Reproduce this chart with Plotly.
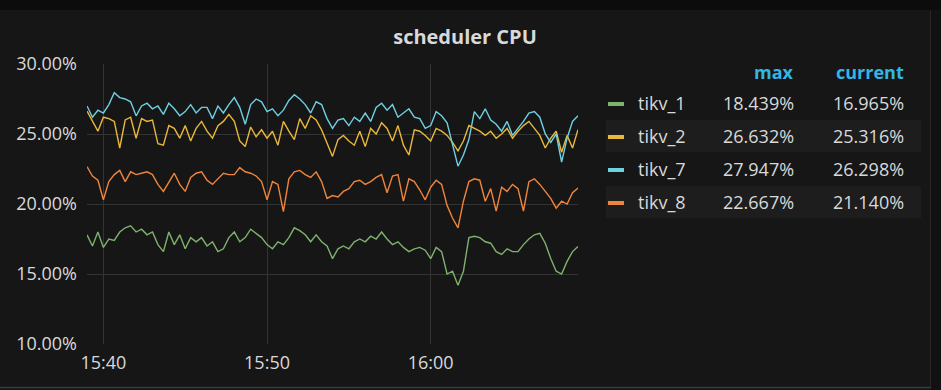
import pandas as pd
import plotly.graph_objects as go

# ---------------- data ----------------
times = pd.date_range("2018-01-01 15:39:00", "2018-01-01 16:09:00", freq="20s")

tikv_1 = [17.8, 17.0, 18.0, 16.9, 17.5, 17.4, 18.0, 18.3, 18.439, 18.0,
          18.2, 17.8, 18.0, 17.1, 16.6, 18.0, 17.1, 17.8, 16.8, 17.6,
          17.3, 17.6, 17.0, 17.3, 16.6, 16.8, 17.6, 18.0, 17.3, 17.6,
          18.2, 17.9, 17.6, 17.1, 16.8, 17.3, 17.1, 17.6, 18.3, 18.1,
          17.8, 17.3, 17.8, 17.3, 17.0, 16.1, 16.8, 17.0, 16.8, 17.3,
          17.5, 17.3, 17.7, 17.5, 18.0, 17.5, 17.1, 17.3, 16.9, 16.6,
          16.8, 16.9, 16.7, 16.1, 16.9, 16.6, 15.0, 15.2, 14.2, 15.2,
          17.6, 17.7, 17.6, 17.3, 17.2, 16.6, 16.4, 16.8, 16.6, 16.6,
          17.1, 17.5, 17.8, 17.9, 17.2, 16.1, 15.2, 15.0, 15.9, 16.6,
          16.965]

tikv_2 = [26.632, 25.9, 25.2, 26.2, 26.1, 25.9, 24.0, 26.0, 26.2, 24.7,
          26.1, 25.9, 26.0, 24.3, 24.2, 25.6, 25.4, 24.7, 25.6, 24.5,
          25.4, 25.9, 25.2, 24.7, 25.6, 25.9, 26.4, 25.9, 24.5, 24.1,
          25.5, 24.8, 25.3, 24.7, 25.2, 24.2, 25.9, 25.2, 24.6, 26.1,
          25.4, 26.3, 26.0, 25.3, 24.3, 23.4, 24.6, 24.9, 24.5, 24.2,
          25.2, 24.1, 25.4, 25.0, 25.8, 25.4, 24.5, 25.6, 24.2, 23.5,
          25.3, 25.2, 24.9, 24.5, 25.4, 25.2, 24.9, 24.4, 23.8, 24.5,
          25.6, 25.4, 25.2, 24.9, 25.2, 24.7, 25.0, 25.4, 24.7, 25.2,
          25.6, 25.9, 25.4, 24.9, 24.0, 24.7, 25.2, 23.7, 24.9, 24.0,
          25.316]

tikv_7 = [27.0, 26.2, 26.7, 26.5, 27.1, 27.947, 27.6, 27.5, 27.3, 26.3,
          27.0, 27.2, 26.8, 27.0, 26.4, 27.2, 26.8, 26.3, 26.6, 27.1,
          26.5, 26.9, 26.9, 26.1, 27.0, 26.5, 27.1, 27.6, 26.9, 25.7,
          27.1, 27.5, 27.3, 26.6, 26.8, 26.3, 26.7, 27.4, 27.8, 27.5,
          27.1, 26.5, 27.3, 27.1, 26.1, 25.4, 26.0, 26.1, 25.6, 26.2,
          25.9, 26.5, 25.9, 26.9, 27.2, 26.7, 27.1, 26.2, 26.5, 26.8,
          26.2, 26.1, 25.4, 25.6, 26.6, 26.3, 25.8, 24.3, 22.7, 23.5,
          24.6, 26.6, 26.1, 26.8, 26.0, 25.7, 25.2, 25.9, 24.9, 25.4,
          25.9, 26.5, 26.6, 26.2, 25.0, 24.4, 25.0, 23.0, 24.7, 25.9,
          26.298]

tikv_8 = [22.667, 22.0, 21.7, 20.3, 21.6, 22.1, 22.4, 21.6, 22.3, 22.1,
          22.2, 22.3, 22.1, 21.4, 20.9, 21.6, 22.2, 21.4, 20.9, 21.9,
          22.2, 22.3, 21.7, 21.4, 21.8, 22.2, 22.1, 22.1, 22.6, 22.3,
          22.2, 22.0, 21.6, 20.3, 21.6, 21.4, 19.45, 21.8, 22.3, 22.4,
          22.1, 21.9, 22.3, 21.6, 20.4, 20.6, 20.5, 20.9, 21.1, 21.6,
          21.7, 21.4, 21.6, 21.9, 22.1, 20.8, 22.0, 22.1, 20.2, 21.8,
          21.6, 21.0, 20.3, 21.2, 21.7, 21.4, 19.9, 19.0, 18.3, 20.2,
          21.6, 21.8, 21.7, 20.2, 21.1, 19.5, 21.2, 20.9, 21.4, 21.1,
          19.5, 21.6, 21.8, 21.4, 20.9, 20.4, 19.7, 20.2, 20.0, 20.8,
          21.14]

series_names = ["tikv_1", "tikv_2", "tikv_7", "tikv_8"]
series_values = [tikv_1, tikv_2, tikv_7, tikv_8]
series_colors = ["#7eb26d", "#eab839", "#6ed0e0", "#ef843c"]
max_labels = ["18.439%", "26.632%", "27.947%", "22.667%"]
current_labels = ["16.965%", "25.316%", "26.298%", "21.140%"]
y_ticks = [10, 15, 20, 25, 30]
y_tick_labels = ["10.00%", "15.00%", "20.00%", "25.00%", "30.00%"]

# ---------------- layout geometry (pixels) ----------------
W, H = 941, 390
L, R, T, B = 87, 578, 64, 344


def px(x):
    return (x - L) / (R - L)


def py(y):
    return (B - y) / (B - T)


fig = go.Figure()
for name, vals, col in zip(series_names, series_values, series_colors):
    fig.add_trace(go.Scatter(x=times, y=vals, mode="lines", name=name,
                             line=dict(color=col, width=1.4), showlegend=False))

txt = "#d8d9da"
font_family = "Open Sans, Noto Sans, sans-serif"
fs = 18

shapes = [
    # top strip
    dict(type="rect", xref="paper", yref="paper", x0=px(0), x1=px(W), y0=py(10), y1=py(0),
         fillcolor="#0c0c0d", line=dict(width=0), layer="below"),
    # right strip
    dict(type="rect", xref="paper", yref="paper", x0=px(931), x1=px(W), y0=py(H), y1=py(10),
         fillcolor="#111112", line=dict(width=0), layer="below"),
    dict(type="line", xref="paper", yref="paper", x0=px(930.5), x1=px(930.5), y0=py(387), y1=py(10),
         line=dict(color="#262627", width=1), layer="below"),
    # bottom edge
    dict(type="line", xref="paper", yref="paper", x0=px(0), x1=px(931), y0=py(387.5), y1=py(387.5),
         line=dict(color="#3a3a3b", width=1.5), layer="below"),
]

# legend row backgrounds and swatches
row_y = [103, 136, 169, 202]
for k, yy in enumerate(row_y):
    if k % 2 == 1:
        shapes.append(dict(type="rect", xref="paper", yref="paper",
                           x0=px(606), x1=px(921), y0=py(yy + 16), y1=py(yy - 16),
                           fillcolor="#1d1d1e", line=dict(width=0), layer="below"))
    shapes.append(dict(type="line", xref="paper", yref="paper",
                       x0=px(608), x1=px(624), y0=py(yy + 1), y1=py(yy + 1),
                       line=dict(color=series_colors[k], width=4)))

annotations = [
    dict(text="<b>max</b>", xref="paper", yref="paper", x=px(796), y=py(72),
         xanchor="right", yanchor="middle", showarrow=False,
         font=dict(color="#33b5e5", size=fs, family=font_family)),
    dict(text="<b>current</b>", xref="paper", yref="paper", x=px(906), y=py(72),
         xanchor="right", yanchor="middle", showarrow=False,
         font=dict(color="#33b5e5", size=fs, family=font_family)),
]
for k, yy in enumerate(row_y):
    annotations.append(dict(text=series_names[k], xref="paper", yref="paper", x=px(636), y=py(yy),
                            xanchor="left", yanchor="middle", showarrow=False,
                            font=dict(color=txt, size=fs, family=font_family)))
    annotations.append(dict(text=max_labels[k], xref="paper", yref="paper", x=px(796), y=py(yy),
                            xanchor="right", yanchor="middle", showarrow=False,
                            font=dict(color=txt, size=fs, family=font_family)))
    annotations.append(dict(text=current_labels[k], xref="paper", yref="paper", x=px(906), y=py(yy),
                            xanchor="right", yanchor="middle", showarrow=False,
                            font=dict(color=txt, size=fs, family=font_family)))

fig.update_layout(
    width=W, height=H,
    margin=dict(l=L, r=W - R, t=T, b=H - B, pad=0),
    paper_bgcolor="#161617",
    plot_bgcolor="#161617",
    title=dict(text="<b>scheduler CPU</b>", x=465 / W, xanchor="center",
               y=1 - 37 / H, yanchor="middle", yref="container",
               font=dict(color=txt, size=20, family=font_family)),
    font=dict(color=txt, family=font_family, size=fs),
    xaxis=dict(
        range=[times[0], times[-1]], type="date",
        tickformat="%H:%M", dtick=600000,
        tick0="2018-01-01 15:40:00",
        showgrid=True, gridcolor="#333334", gridwidth=1,
        zeroline=False, showline=False, ticks="", ticklen=0,
        ticklabelstandoff=6,
        tickfont=dict(size=fs, color=txt),
    ),
    yaxis=dict(
        range=[10, 30], tickmode="array", tickvals=y_ticks, ticktext=y_tick_labels,
        showgrid=True, gridcolor="#333334", gridwidth=1,
        zeroline=False, showline=False, ticks="", ticklen=0,
        ticklabelstandoff=9,
        tickfont=dict(size=fs, color=txt),
    ),
    shapes=shapes,
    annotations=annotations,
    showlegend=False,
)

fig.write_html("out.html",
               config={"displayModeBar": False},
               post_script="document.body.style.margin='0';document.body.style.background='#161617';")
